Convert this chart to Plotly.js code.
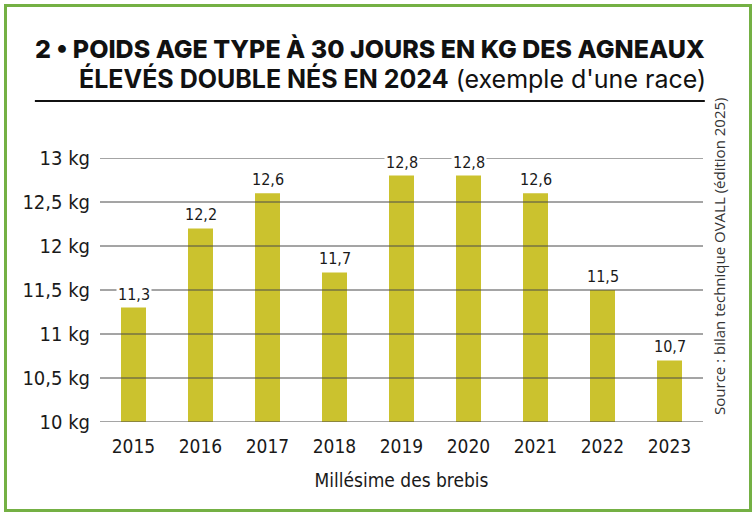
<!DOCTYPE html>
<html>
<head>
<meta charset="utf-8">
<script src="https://cdn.plot.ly/plotly-3.0.1.min.js"></script>
<style>
  html, body { margin: 0; padding: 0; background: #fff; }
  #wrap { position: relative; width: 756px; height: 516px; }
  #chart { position: absolute; left: 0; top: 0; width: 756px; height: 516px; }
  #frame { position: absolute; left: 4px; top: 4px; width: 742px; height: 502px;
           border: 3.5px solid #74b044; pointer-events: none; }
</style>
</head>
<body>
<div id="wrap">
  <div id="chart"></div>
  <div id="frame"></div>
</div>
<script>
const years = ['2015', '2016', '2017', '2018', '2019', '2020', '2021', '2022', '2023'];
const weights = [11.3, 12.2, 12.6, 11.7, 12.8, 12.8, 12.6, 11.5, 10.7];
const yTickVals = [10, 10.5, 11, 11.5, 12, 12.5, 13];
const yTickText = ['10 kg', '10,5 kg', '11 kg', '11,5 kg', '12 kg', '12,5 kg', '13 kg'];
const titleLine1 = '2 • POIDS AGE TYPE À 30 JOURS EN KG DES AGNEAUX';
const titleLine2Bold = 'ÉLEVÉS DOUBLE NÉS EN 2024';
const titleLine2Rest = ' (exemple d\'une race)';
const xAxisTitle = 'Millésime des brebis';
const sourceText = 'Source : bilan technique OVALL (édition 2025)';

const COND = '"DejaVu Sans Condensed", "DejaVu Sans", sans-serif';
const BOLD = 'Inter, "Noto Sans", sans-serif';
const fmt = v => String(v).replace('.', ',');
const condFont = (size) => ({ family: COND, size: size, color: '#1a1a1a', stretch: 'condensed' });

const trace = {
  type: 'bar',
  x: years,
  y: weights,
  width: 0.373,
  marker: { color: '#cbc22e', line: { width: 0 } },
  hoverinfo: 'x+y'
};

const shapes = yTickVals.map(v => ({
  type: 'line', xref: 'paper', yref: 'y', x0: 0, x1: 1, y0: v, y1: v,
  line: { color: '#4a4a4a', width: 1 }, layer: 'above'
}));
shapes.push({
  type: 'line', xref: 'paper', yref: 'paper', x0: -0.108, x1: 1.003, y0: 1.216, y1: 1.216,
  line: { color: '#111', width: 2.2 }
});

const annotations = years.map((yr, i) => ({
  x: i, y: weights[i], xref: 'x', yref: 'y',
  text: fmt(weights[i]), showarrow: false,
  yanchor: 'bottom', yshift: 2, bgcolor: '#fff', borderpad: 1,
  font: condFont(16)
}));
annotations.push({
  xref: 'paper', yref: 'paper', x: 1.0045, y: 1.414, xanchor: 'right', yanchor: 'middle',
  text: titleLine1, showarrow: false, borderpad: 0,
  font: { family: BOLD, size: 25, color: '#111', weight: 800 }
});
annotations.push({
  xref: 'paper', yref: 'paper', x: 1.006, y: 1.302, xanchor: 'right', yanchor: 'middle',
  text: '<b>' + titleLine2Bold + '</b>' + titleLine2Rest, showarrow: false, borderpad: 0,
  font: { family: BOLD, size: 25, color: '#111' }
});
annotations.push({
  xref: 'paper', yref: 'paper', x: 1.0265, y: 0.629, xanchor: 'center', yanchor: 'middle',
  text: sourceText, textangle: -90, showarrow: false,
  font: { family: '"Open Sans", "Noto Sans", sans-serif', size: 15, color: '#333' }
});

const layout = {
  width: 756, height: 516,
  margin: { l: 100, r: 53, t: 158, b: 94, pad: 0 },
  paper_bgcolor: '#fff', plot_bgcolor: '#fff',
  showlegend: false,
  xaxis: {
    type: 'category', range: [-0.5, 8.5],
    showgrid: false, zeroline: false, showline: false, ticks: '',
    ticklabelstandoff: 11,
    tickfont: condFont(19),
    title: { text: xAxisTitle, standoff: 17, font: condFont(19) }
  },
  yaxis: {
    range: [10, 13], tickvals: yTickVals, ticktext: yTickText,
    showgrid: false, zeroline: false, showline: false, ticks: '',
    ticklabelstandoff: 9,
    tickfont: condFont(20)
  },
  shapes: shapes,
  annotations: annotations
};

Plotly.newPlot('chart', [trace], layout, { displayModeBar: false, staticPlot: true });
</script>
</body>
</html>
